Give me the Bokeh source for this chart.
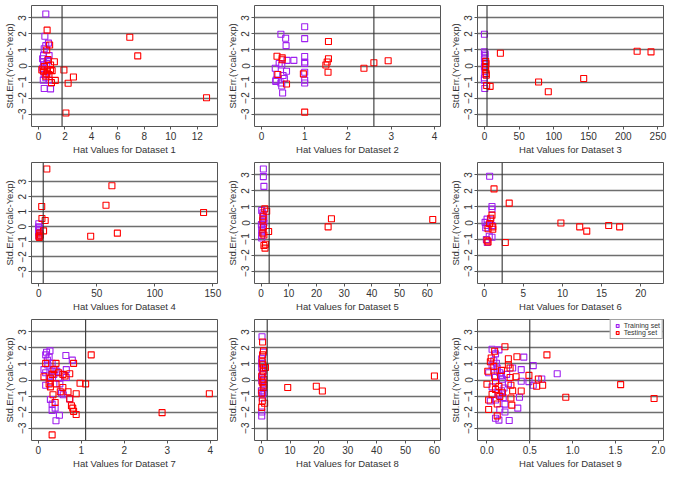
from bokeh.plotting import figure
from bokeh.layouts import gridplot
from bokeh.models import Span, FixedTicker, Range1d, NumeralTickFormatter, Legend, LegendItem
from bokeh.embed import file_html
from bokeh.resources import INLINE

# ---------------- data ----------------
titles = ["Hat Values for Dataset %d" % i for i in range(1, 10)]
thresholds = [1.78, 2.6, 3.7, 3.8, 2.9, 2.3, 1.1, 2.1, 0.5]
x_ranges = [(-0.53, 13.53), (-0.16, 4.14), (-10, 258), (-6.3, 154), (-2.4, 64.8),
            (-0.85, 22.9), (-0.16, 4.17), (-2.3, 62.1), (-0.11, 2.06)]
y_ranges = [(-3.78, 3.78), (-3.78, 3.78), (-3.78, 3.78), (-3.77, 4.28), (-3.78, 3.78),
            (-3.78, 3.78), (-3.78, 3.78), (-3.78, 3.78), (-3.78, 3.78)]
x_ticks = [[0, 2, 4, 6, 8, 10, 12], [0, 1, 2, 3, 4], [0, 50, 100, 150, 200, 250],
           [0, 50, 100, 150], [0, 10, 20, 30, 40, 50, 60], [0, 5, 10, 15, 20],
           [0, 1, 2, 3, 4], [0, 10, 20, 30, 40, 50, 60], [0.0, 0.5, 1.0, 1.5, 2.0]]
y_ticks = [-3, -2, -1, 0, 1, 2, 3]

# Dataset 1
train1_x = [0.55, 0.48, 0.43, 0.55, 0.75, 0.38, 0.8, 0.31, 0.38, 0.43, 0.31, 0.43, 0.55, 0.36, 0.8, 0.43, 0.91, 0.67, 0.62, 0.72]
train1_y = [3.25, 1.86, 1.08, 1.27, 1.43, 0.65, 0.65, 0.45, 0.25, 0.06, -0.14, -0.53, -0.73, -0.88, -0.88, -1.41, -1.43, -0.33, 0.16, 0.35]
test1_x = [0.65, 0.84, 0.62, 0.72, 1.2, 0.91, 1.03, 0.67, 0.38, 0.55, 0.79, 1.27, 0.98, 1.92, 2.64, 2.24, 2.07, 6.9, 7.5, 12.7, 0.91, 0.43, 0.62, 0.25]
test1_y = [2.24, 1.31, 1.0, 0.41, 0.27, 0.06, -0.29, -0.24, -0.33, -0.63, -0.53, -0.9, -1.04, -0.25, -0.69, -1.08, -2.94, 1.8, 0.63, -1.98, -0.22, -0.04, -0.49, -0.24]

# Dataset 2
train2_x = [0.45, 0.56, 0.57, 1.0, 1.0, 1.0, 1.0, 1.0, 1.0, 1.0, 1.0, 0.59, 0.75, 0.41, 0.32, 0.47, 0.58, 0.5, 0.53, 0.34, 0.33, 0.45, 0.47, 0.49, 0.36]
train2_y = [1.98, 1.73, 1.27, 2.45, 1.71, 0.59, 0.25, 0.16, -0.39, -0.88, -1.06, 0.35, 0.35, 0.16, -0.14, 0.06, -0.33, -0.59, -0.78, -0.88, -0.96, -1.06, -1.25, -1.69, -0.53]
test2_x = [0.36, 0.48, 0.48, 0.38, 0.58, 0.97, 1.0, 1.55, 1.55, 1.52, 1.49, 1.54, 2.37, 2.6, 2.93]
test2_y = [0.61, 0.51, 0.39, -0.53, -1.12, -0.49, -2.88, 1.53, 0.45, 0.25, 0.06, -0.39, -0.14, 0.2, 0.33]

# Dataset 3
train3_x = [0.0, 0.0, 0.5, 0.0, 0.5, 0.0, 0.5, 0.0, 0.0, 0.5, 1.0]
train3_y = [1.98, 0.88, 0.65, 0.45, 0.25, -0.04, -0.33, -0.73, -0.88, -1.41, 0.75]
test3_x = [1.8, 2.3, 1.4, 1.8, 2.3, 2.7, 3.2, 8.2, 23, 78, 92, 143, 220, 240]
test3_y = [0.29, 0.16, -0.04, -0.24, -0.47, -0.57, -1.22, -1.27, 0.8, -1.0, -1.61, -0.78, 0.92, 0.88]

# Dataset 4
train4_x = [0.0, 0.0, 0.0, 0.0, 0.0, 0.5, 0.3, 0.3]
train4_y = [0.21, 0.0, -0.17, -0.38, -0.63, -0.55, -0.27, -0.06]
test4_x = [6.9, 2.5, 2.7, 5.5, 4.1, 0.8, 1.4, 0.2, 63, 57.9, 44.7, 67.7, 142, 0.5]
test4_y = [3.85, 1.35, 0.55, 0.42, -0.27, -0.42, -0.55, -0.63, 2.73, 1.44, -0.63, -0.42, 0.95, -0.7]

# Dataset 5
train5_x = [0.8, 0.8, 1.0, 0.2, 0.6, 0.8, 1.0, 0.6, 0.1, 0.8, 0.2, 0.2, 0.2, 1.0, 0.6]
train5_y = [3.37, 2.9, 2.29, 0.78, 0.63, 0.49, 0.29, 0.1, -0.1, -0.24, -0.49, -0.78, -0.94, 0.0, -0.39]
test5_x = [1.3, 2.0, 0.7, 0.6, 0.8, 0.6, 1.0, 2.7, 1.6, 1.0, 1.4, 24.2, 25.4, 62]
test5_y = [0.88, 0.73, 0.39, 0.2, -0.25, -0.63, -0.75, -0.53, -1.33, -1.41, -1.57, -0.24, 0.27, 0.22]

# Dataset 6
train6_x = [0.7, 1.0, 1.0, 0.37, 0.12, 0.37, 0.2, 0.65, 1.0, 0.28, 0.4, 0.8, 1.0]
train6_y = [2.92, 1.03, 0.87, 0.24, 0.04, -0.16, -0.3, -0.83, -0.89, -1.03, -1.22, 0.2, -0.16]
test6_x = [1.26, 3.2, 1.0, 0.85, 0.7, 0.5, 1.1, 1.1, 0.37, 0.5, 2.7, 9.8, 12.2, 13.1, 15.9, 17.3]
test6_y = [2.13, 1.24, 0.49, 0.3, -0.04, -0.36, -0.24, -0.39, -1.08, -1.18, -1.22, 0.0, -0.24, -0.51, -0.16, -0.24]

# Dataset 7
train7_x = [0.19, 0.27, 0.17, 0.25, 0.21, 0.64, 0.79, 0.13, 0.17, 0.22, 0.32, 0.39, 0.36, 0.47, 0.28, 0.17,
            0.5, 0.65, 0.65, 0.54, 0.58, 0.73, 0.28, 0.32, 0.39, 0.32, 0.49, 0.41, 0.43, 0.32, 0.25]
train7_y = [1.73, 1.82, 1.57, 1.43, 1.24, 1.53, 1.24, 0.65, 0.45, 0.94, 1.04, 0.65, 0.35, 0.12, -0.14, -0.33,
            -0.24, 0.65, 0.16, -0.82, -0.92, -1.18, -1.22, -1.51, -1.76, -1.9, -2.2, -2.55, 0.55, 0.55, 0.25]
test7_x = [1.23, 0.17, 0.82, 0.41, 0.36, 0.47, 0.57, 0.73, 0.32, 0.28, 0.25, 0.41, 0.28, 0.57, 0.51, 0.69,
           0.34, 0.88, 0.97, 1.1, 0.73, 0.77, 0.8, 0.82, 0.88, 0.39, 0.32, 2.88, 3.98, 0.62, 0.13]
test7_y = [1.57, 1.04, 1.04, 1.04, 0.65, 0.45, 0.35, 0.39, 0.35, 0.12, -0.24, -0.24, -0.43, -0.47, -0.73, -0.73,
           -0.92, -0.86, -0.2, -0.24, -1.18, -1.61, -1.76, -1.96, -2.16, -1.41, -3.43, -2.04, -0.86, 0.25, 0.2]

# Dataset 8
train8_x = [0.3, 0.2, 0.2, 0.2, 0.2, 0.5, 0.8, 0.1, 0.5, 1.0, 0.2, 0.8, 0.2, 0.2, 0.4, 0.6, 0.9]
train8_y = [2.7, -2.0, -2.25, 1.33, 0.75, 0.35, -0.24, -0.67, -0.92, -0.78, -0.04, 1.73, 1.04, 0.16, -1.12, 0.5, -0.5]
test8_x = [0.5, 0.8, 0.5, 0.4, 1.5, 0.7, 0.2, 0.4, 1.0, 0.7, 0.4, 1.2, 0.2, 9.2, 19.1, 21.2, 60, 0.8, 0.2, 0.6, 0.9]
test8_y = [2.37, 1.82, 1.57, 1.14, 0.78, 0.55, 0.25, -0.14, -0.33, -0.47, -1.31, -1.45, -1.71, -0.47, -0.39, -0.69, 0.25, 0.75, -0.82, 0.95, 0.05]

# Dataset 9
train9_x = [0.06, 0.14, 0.1, 0.43, 0.54, 0.06, 0.12, 0.02, 0.15, 0.23, 0.17, 0.1, 0.3, 0.4, 0.82, 0.64, 0.4,
            0.49, 0.54, 0.25, 0.06, 0.17, 0.38, 0.1, 0.21, 0.36, 0.15, 0.21, 0.1, 0.14, 0.26, 0.13, 0.04,
            0.12, 0.18, 0.08, 0.2, 0.16, 0.11, 0.14, 0.19]
train9_y = [1.92, 1.88, 1.63, 1.43, 0.9, 0.94, 0.75, 0.45, 0.45, 0.35, 0.25, 0.16, 0.75, 0.65, 0.39, 0.06, -0.08,
            -0.1, -0.33, -0.24, -0.43, -0.67, -1.08, -1.25, -1.51, -1.76, -1.84, -2.0, -2.39, -2.51, -2.53, -0.82, -1.31,
            0.55, 0.05, 1.2, -0.5, 0.3, 1.05, -0.95, -1.1]
test9_x = [0.21, 0.35, 0.7, 0.05, 0.04, 0.25, 0.25, 0.27, 0.01, 0.09, 0.27, 0.34, 0.49, 0.6, 0.65, 0.58, 0.28,
           0.0, 0.1, 0.15, 0.28, 0.92, 1.56, 1.95, 0.02, 0.29, 0.02, 0.12, 0.3, 0.4, 0.1, 0.08, 0.14, 0.06,
           0.17, 0.12, 0.09, 0.18]
test9_y = [2.08, 1.45, 1.57, 1.37, 1.14, 1.33, 0.94, 0.75, 0.55, 0.25, 0.16, 0.2, 0.29, 0.06, -0.33, -0.39, -0.33,
           -0.27, -0.59, -1.02, -1.12, -1.08, -0.29, -1.16, -1.25, -1.57, -1.84, -2.24, -0.67, -0.69, -0.14, 0.85,
           -0.4, -0.9, 0.6, -1.5, 1.8, -0.8]

train_x = [train1_x, train2_x, train3_x, train4_x, train5_x, train6_x, train7_x, train8_x, train9_x]
train_y = [train1_y, train2_y, train3_y, train4_y, train5_y, train6_y, train7_y, train8_y, train9_y]
test_x = [test1_x, test2_x, test3_x, test4_x, test5_x, test6_x, test7_x, test8_x, test9_x]
test_y = [test1_y, test2_y, test3_y, test4_y, test5_y, test6_y, test7_y, test8_y, test9_y]
legend_labels = ["Training set", "Testing set"]

# ---------------- styling ----------------
FONT = "Liberation Sans"
PURPLE = "#A020F0"
RED = "#FF0000"
TXT = "#333333"
CELL_W, CELL_H = 223, 157

figs = []
for i in range(9):
    p = figure(width=CELL_W, height=CELL_H, output_backend="svg", toolbar_location=None,
               x_range=Range1d(*x_ranges[i]), y_range=Range1d(*y_ranges[i]),
               min_border_left=27, min_border_right=6, min_border_top=5, min_border_bottom=28)
    p.background_fill_color = "white"
    p.border_fill_color = "white"
    p.outline_line_color = "#555555"
    p.outline_line_width = 1

    p.xgrid.visible = False
    p.ygrid.ticker = FixedTicker(ticks=y_ticks)
    p.ygrid.grid_line_color = "#6e6e6e"
    p.ygrid.grid_line_width = 1.3

    for ax, ticks in ((p.xaxis[0], x_ticks[i]), (p.yaxis[0], y_ticks)):
        ax.ticker = FixedTicker(ticks=ticks)
        ax.bounds = (ticks[0], ticks[-1])
        ax.axis_line_color = "#555555"
        ax.major_tick_line_color = "#555555"
        ax.major_tick_out = 3
        ax.major_tick_in = 0
        ax.minor_tick_line_color = None
        ax.major_label_text_font = FONT
        ax.major_label_text_font_size = "10px"
        ax.major_label_text_color = TXT
        ax.axis_label_text_font = FONT
        ax.axis_label_text_font_size = "9.5px"
        ax.axis_label_text_font_style = "normal"
        ax.axis_label_text_color = TXT
        ax.axis_label_standoff = 1
        ax.major_label_standoff = 2

    p.yaxis.major_label_orientation = "vertical"
    p.yaxis.axis_label = "Std.Err.(Ycalc-Yexp)"
    p.xaxis.axis_label = titles[i]
    if i == 8:
        p.xaxis.formatter = NumeralTickFormatter(format="0.0")

    p.add_layout(Span(location=thresholds[i], dimension="height",
                      line_color="#333333", line_width=1.1))

    r_train = p.scatter(train_x[i], train_y[i], marker="square", size=6,
                        fill_color=None, line_color=PURPLE, line_width=1.1)
    r_test = p.scatter(test_x[i], test_y[i], marker="square", size=6,
                       fill_color=None, line_color=RED, line_width=1.1)

    if i == 8:
        leg = Legend(items=[LegendItem(label=legend_labels[0], renderers=[r_train]),
                            LegendItem(label=legend_labels[1], renderers=[r_test])],
                     location="top_right")
        leg.margin = 0
        leg.padding = 2
        leg.spacing = 0
        leg.glyph_width = 9
        leg.glyph_height = 7
        leg.label_height = 7
        leg.label_standoff = 2
        leg.label_text_font = FONT
        leg.label_text_font_size = "7px"
        leg.label_text_color = TXT
        leg.border_line_color = "#444444"
        leg.border_line_width = 1
        leg.background_fill_alpha = 1
        p.add_layout(leg)

    figs.append(p)

grid = gridplot(figs, ncols=3, toolbar_location=None)
open("out.html", "w").write(file_html(grid, INLINE))
